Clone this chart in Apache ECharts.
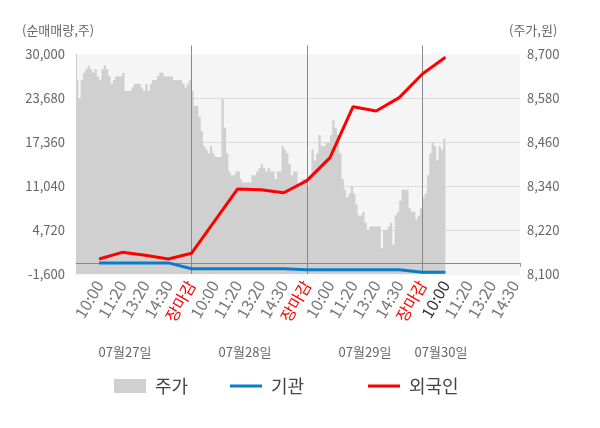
<!DOCTYPE html>
<html>
<head>
<meta charset="utf-8">
<script src="https://cdn.jsdelivr.net/npm/echarts@6/dist/echarts.min.js"></script>
<style>
html, body { margin: 0; padding: 0; background: #fff; }
#chart { width: 600px; height: 428px; }
</style>
</head>
<body>
<div id="chart"></div>
<script>
// x축 눈금 라벨 (하루 = 5칸, 장시작은 앞 장마감과 같은 자리)
var tickLabels = ['', '10:00', '11:20', '13:20', '14:30', '장마감',
    '10:00', '11:20', '13:20', '14:30', '장마감',
    '10:00', '11:20', '13:20', '14:30', '장마감',
    '10:00', '11:20', '13:20', '14:30'];
var todayTick = 16;
var dayLabels = ['07월27일', '07월28일', '07월29일', '07월30일'];

// 주가(원), 하루마다 0.1칸 간격
var price0727 = [8630, 8580, 8630, 8650, 8660, 8670, 8660, 8650, 8660, 8640,
    8630, 8660, 8670, 8660, 8640, 8620, 8630, 8640, 8640, 8640,
    8650, 8600, 8600, 8600, 8610, 8620, 8620, 8620, 8610, 8600,
    8620, 8600, 8620, 8630, 8630, 8640, 8650, 8650, 8640, 8640,
    8640, 8640, 8630, 8630, 8630, 8630, 8620, 8610, 8620, 8630, 8630];
var price0728 = [8600, 8560, 8560, 8530, 8490, 8450, 8440, 8430, 8450, 8430,
    8420, 8420, 8420, 8580, 8500, 8430, 8380, 8370, 8370, 8380,
    8380, 8360, 8350, 8350, 8350, 8350, 8370, 8370, 8380, 8390,
    8400, 8390, 8380, 8390, 8380, 8380, 8360, 8380, 8380, 8450,
    8440, 8430, 8400, 8370, 8380, 8380, 8340, 8350, 8360, 8360, 8360];
var price0729 = [8340, 8370, 8440, 8410, 8430, 8480, 8450, 8450, 8460, 8460,
    8480, 8520, 8500, 8480, 8430, 8360, 8330, 8310, 8320, 8340,
    8320, 8290, 8260, 8260, 8270, 8240, 8220, 8230, 8230, 8230,
    8230, 8230, 8170, 8220, 8220, 8230, 8240, 8180, 8260, 8270,
    8300, 8330, 8330, 8330, 8280, 8270, 8270, 8250, 8260, 8280, 8310];
var price0730 = [8310, 8320, 8370, 8430, 8460, 8450, 8410, 8450, 8440, 8470, 8480];

// 순매매량(주), 눈금 1~16 위치
var instNet = [0, 0, 0, 0, -850, -850, -850, -850, -850, -980,
    -980, -980, -980, -980, -1350, -1350];
var foreignNet = [560, 1520, 1090, 560, 1380, 6000, 10640, 10540, 10100, 11850,
    15150, 22490, 21870, 23790, 27200, 29600];

var dayBounds = [5, 10, 15];
var FONT = "'Noto Sans CJK KR', 'Noto Sans', sans-serif";

var priceDays = [price0727, price0728, price0729, price0730];
var pricePts = [];
for (var d = 0; d < priceDays.length; d++) {
    for (var j = 0; j < priceDays[d].length; j++) {
        pricePts.push([d * 5 + j * 0.1, priceDays[d][j]]);
    }
}
var instPts = [], foreignPts = [];
for (var i = 0; i < instNet.length; i++) {
    instPts.push([i + 1, instNet[i]]);
    foreignPts.push([i + 1, foreignNet[i]]);
}

function fmtNum(v) {
    return v.toLocaleString('en-US');
}

var legendText = { fontSize: 18, color: '#444', lineHeight: 20, padding: [0, 0, 0, 4] };

var myChart = echarts.init(document.getElementById('chart'));
var option = {
    animation: false,
    textStyle: { fontFamily: FONT },
    grid: {
        left: 76, right: 80, top: 54.5, bottom: 154,
        show: true, backgroundColor: '#f5f5f5', borderWidth: 0
    },
    xAxis: [
        {
            type: 'value',
            min: 0,
            max: 19.23,
            interval: 1,
            position: 'bottom',
            axisLine: { lineStyle: { color: '#999' } },
            axisTick: { show: true, customValues: [0, 5, 10, 15, 19.23], length: 4, lineStyle: { color: '#999' } },
            splitLine: { show: false },
            axisLabel: {
                rotate: 60,
                margin: 8,
                fontSize: 16,
                color: '#777',
                formatter: function (v) {
                    var k = Math.round(v);
                    if (Math.abs(v - k) > 1e-6) return '';
                    var t = tickLabels[k] || '';
                    if (t === '장마감') return '{close|' + t + '}';
                    if (k === todayTick) return '{today|' + t + '}';
                    return t;
                },
                rich: {
                    close: { color: '#ff0000', fontSize: 16, fontFamily: FONT },
                    today: { color: '#333', fontSize: 16, fontFamily: FONT }
                }
            }
        },
        {
            // 날짜 경계선이 그림 위로 조금 올라가는 부분
            type: 'value',
            min: 0,
            max: 19.23,
            position: 'top',
            axisLine: { show: false },
            axisTick: { show: true, customValues: dayBounds, length: 9, lineStyle: { color: '#888' } },
            axisLabel: { show: false },
            splitLine: { show: false }
        }
    ],
    yAxis: [
        {
            type: 'value',
            min: -1600,
            max: 30000,
            interval: 6320,
            position: 'left',
            axisLine: { show: true, lineStyle: { color: '#999' } },
            axisTick: { show: false },
            axisLabel: { fontSize: 13, color: '#666', margin: 11, formatter: fmtNum },
            splitLine: { lineStyle: { color: ['#f5f5f5', '#dcdcdc', '#dcdcdc', '#dcdcdc', '#dcdcdc', '#f5f5f5'] } }
        },
        {
            type: 'value',
            min: 8100,
            max: 8700,
            interval: 120,
            position: 'right',
            axisLine: { show: true, lineStyle: { color: '#ccc' } },
            axisTick: { show: false },
            axisLabel: { fontSize: 13, color: '#666', margin: 7, formatter: fmtNum },
            splitLine: { show: false }
        }
    ],
    legend: [
        {
            data: [{ name: '주가', icon: 'rect' }],
            left: 114, top: 376, padding: 0, itemWidth: 32, itemHeight: 14,
            selectedMode: false, textStyle: legendText
        },
        {
            data: [{ name: '기관', icon: 'rect' }],
            left: 230, top: 376, padding: 0, itemWidth: 32, itemHeight: 3,
            selectedMode: false, textStyle: legendText
        },
        {
            data: [{ name: '외국인', icon: 'rect' }],
            left: 368, top: 376, padding: 0, itemWidth: 32, itemHeight: 3,
            selectedMode: false, textStyle: legendText
        }
    ],
    graphic: [
        { type: 'text', left: 22, top: 24, style: { text: '(순매매량,주)', fill: '#666', font: '13px ' + FONT } },
        { type: 'text', left: 509, top: 24, style: { text: '(주가,원)', fill: '#666', font: '13px ' + FONT } },
        { type: 'text', x: 125, y: 352, style: { text: dayLabels[0], fill: '#666', font: '13px ' + FONT, textAlign: 'center', textVerticalAlign: 'middle' } },
        { type: 'text', x: 245, y: 352, style: { text: dayLabels[1], fill: '#666', font: '13px ' + FONT, textAlign: 'center', textVerticalAlign: 'middle' } },
        { type: 'text', x: 365, y: 352, style: { text: dayLabels[2], fill: '#666', font: '13px ' + FONT, textAlign: 'center', textVerticalAlign: 'middle' } },
        { type: 'text', x: 441, y: 352, style: { text: dayLabels[3], fill: '#666', font: '13px ' + FONT, textAlign: 'center', textVerticalAlign: 'middle' } }
    ],
    series: [
        {
            name: '주가',
            type: 'line',
            yAxisIndex: 1,
            z: 1,
            step: 'end',
            data: pricePts,
            symbol: 'none',
            lineStyle: { width: 0 },
            itemStyle: { color: '#d0d0d0' },
            areaStyle: { color: '#d0d0d0', opacity: 1, origin: 'start' },
            markLine: {
                z: 2,
                silent: true,
                symbol: 'none',
                label: { show: false },
                lineStyle: { color: '#888', type: 'solid', width: 1 },
                data: dayBounds.map(function (b) { return { xAxis: b }; })
            }
        },
        {
            name: '기관',
            type: 'line',
            yAxisIndex: 0,
            z: 3,
            data: instPts,
            symbol: 'none',
            itemStyle: { color: '#0a7cc8' },
            lineStyle: { width: 3, color: '#0a7cc8' },
            markLine: {
                z: 2,
                silent: true,
                symbol: 'none',
                label: { show: false },
                lineStyle: { color: '#888', type: 'solid', width: 1 },
                data: [{ yAxis: 0 }]
            }
        },
        {
            name: '외국인',
            type: 'line',
            yAxisIndex: 0,
            z: 4,
            data: foreignPts,
            symbol: 'none',
            itemStyle: { color: '#ff0000' },
            lineStyle: { width: 3, color: '#ff0000' }
        }
    ]
};
myChart.setOption(option);
</script>
</body>
</html>
